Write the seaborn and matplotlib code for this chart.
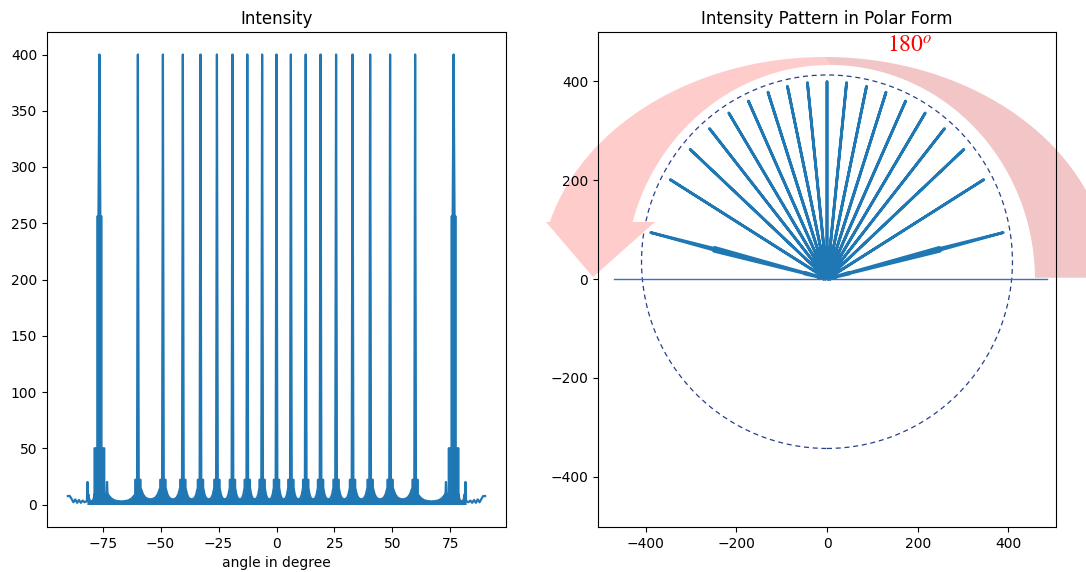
import numpy as np
import pandas as pd
import matplotlib
matplotlib.use("Agg")
import matplotlib.pyplot as plt
import matplotlib.transforms as mtransforms
from matplotlib.patches import Ellipse, Polygon
import seaborn as sns

# ---------------- data ----------------
peak_angles = [-76.4, -59.8, -49.0, -40.4, -32.8, -25.7, -19.0, -12.6, -6.2, 0.0,
               6.2, 12.6, 19.0, 25.7, 32.8, 40.4, 49.0, 59.8, 76.4]
peak_values = [400] * 19
shoulder_values = [50, 22, 22, 22, 22, 22, 22, 22, 22, 22,
                   22, 22, 22, 22, 22, 22, 22, 22, 50]
plateau_values = [256, 0, 0, 0, 0, 0, 0, 0, 0, 0,
                  0, 0, 0, 0, 0, 0, 0, 0, 256]
side_bump_angles = [-81.5, -73.1, 73.1, 81.5]
side_bump_values = [20, 20, 20, 20]
gap_profile = [15, 9, 6, 5, 4.5, 5, 6, 9, 15]          # sidelobe envelope across a gap
edge_left_angles = [-90.0, -89.2, -88.4, -87.6, -86.8, -86.0, -85.2, -84.4, -83.6, -82.8]
edge_left_values = [7.5, 7.6, 5.0, 2.0, 4.5, 1.5, 4.0, 1.5, 3.5, 2.0]
edge_right_angles = [82.8, 83.6, 84.4, 85.2, 86.0, 86.8, 87.6, 88.4, 89.2, 90.0]
edge_right_values = [2.0, 3.5, 1.5, 4.0, 1.5, 4.5, 2.0, 5.0, 7.6, 7.5]
axis_line_x = [-470, 485]
axis_line_y = [0, 0]

C0 = "#1f77b4"

# ---------------- build the intensity trace from the values ----------------
def peak_pts(a, top, sh, pl):
    if pl:
        return [(a - 2.1, 3), (a - 2.1, sh), (a - 0.9, sh), (a - 0.9, pl), (a - 0.4, pl),
                (a, top), (a + 0.4, pl), (a + 0.9, pl), (a + 0.9, sh), (a + 2.1, sh), (a + 2.1, 3)]
    return [(a - 1.15, sh), (a - 0.35, sh), (a, top), (a + 0.35, sh), (a + 1.15, sh)]

def bump_pts(a, v):
    return [(a - 0.3, 3), (a, v), (a + 0.3, 3)]

features = [(a, "p", i) for i, a in enumerate(peak_angles)] + \
           [(a, "b", i) for i, a in enumerate(side_bump_angles)]
features.sort()

interior = []
for k, (a, kind, i) in enumerate(features):
    if kind == "p":
        pts = peak_pts(a, peak_values[i], shoulder_values[i], plateau_values[i])
    else:
        pts = bump_pts(a, side_bump_values[i])
    if k > 0 and interior:
        x0 = interior[-1][0]
        x1 = pts[0][0]
        prev_kind = features[k - 1][1]
        fr = np.linspace(0, 1, len(gap_profile))
        scale = 1.0 if (prev_kind == "p" and kind == "p") else 0.6
        interior += [(x0 + f * (x1 - x0), scale * g) for f, g in zip(fr, gap_profile)]
    interior += pts

ix = np.array([p[0] for p in interior])
iy = np.array([p[1] for p in interior], dtype=float)
full_x = np.concatenate([edge_left_angles, ix, edge_right_angles])
full_y = np.concatenate([edge_left_values, iy, edge_right_values])
df = pd.DataFrame({"angle": full_x, "I": full_y})
df["px"] = df["I"] * np.sin(np.radians(df["angle"]))
df["py"] = df["I"] * np.cos(np.radians(df["angle"]))

# ---------------- figure ----------------
fig = plt.figure(figsize=(10.86, 5.72), dpi=100)
ax1 = fig.add_axes([47 / 1086, 45 / 572, 459 / 1086, 495 / 572])
ax2 = fig.add_axes([598 / 1086, 45 / 572, 458 / 1086, 495 / 572])

# left: intensity vs angle
ax1.fill_between(ix, 0, iy, color=C0, lw=0)
sns.lineplot(data=df, x="angle", y="I", sort=False, estimator=None, ax=ax1,
             color=C0, lw=1.6)
ax1.set_xlim(-99, 99)
ax1.set_ylim(-20, 420)
ax1.set_xticks([-75, -50, -25, 0, 25, 50, 75])
ax1.set_yticks([0, 50, 100, 150, 200, 250, 300, 350, 400])
ax1.set_title("Intensity", fontsize=12)
ax1.set_xlabel("angle in degree", fontsize=10)
ax1.set_ylabel("")

# right: polar form
ipx = iy * np.sin(np.radians(ix))
ipy = iy * np.cos(np.radians(ix))
ax2.fill(np.r_[0, ipx, 0], np.r_[0, ipy, 0], color=C0, lw=0, zorder=2)
sns.lineplot(data=df, x="px", y="py", sort=False, estimator=None, ax=ax2,
             color=C0, lw=2.0)
sns.lineplot(x=axis_line_x, y=axis_line_y, ax=ax2, color="#3a6fc4", lw=1.0)
ax2.add_patch(Ellipse((0, 35), 818, 756, fill=False, ec="#27408b", lw=0.9,
                      ls=(0, (4, 3))))
ax2.set_xlim(-505, 505)
ax2.set_ylim(-502, 500)
ax2.set_xticks([-400, -200, 0, 200, 400])
ax2.set_yticks([-400, -200, 0, 200, 400])
ax2.set_xlabel("")
ax2.set_ylabel("")
ax2.set_title("Intensity Pattern in Polar Form", fontsize=12)

# red curved arrow (annotation drawn in figure pixel coordinates, y downward)
pix = mtransforms.Affine2D().scale(1, -1).translate(0, 572).scale(1 / 1086, 1 / 572) + fig.transFigure

def band(t0, t1, n=80):
    t = np.radians(np.linspace(t0, t1, n))
    ox, oy, oa, ob = 825, 280, 285, 223
    ix_, iy_, ia, ib = 830, 280, 205, 215
    outer = np.c_[ox + oa * np.cos(t), oy - ob * np.sin(t)]
    inner = np.c_[ix_ + ia * np.cos(t[::-1]), iy_ - ib * np.sin(t[::-1])]
    return np.vstack([outer, inner])

# right half (darker), left half (lighter) ending where the head starts
ax2.add_patch(Polygon(band(0.6, 90), closed=True, transform=pix, fc="#f2c6c6",
                      ec="none", clip_on=False, zorder=1))
ax2.add_patch(Polygon(band(90, 165), closed=True, transform=pix, fc="#ffcccc",
                      ec="none", clip_on=False, zorder=1))
ax2.add_patch(Polygon([(546, 222), (655, 222), (593, 277)], closed=True, transform=pix,
                      fc="#ffcccc", ec="none", clip_on=False, zorder=1))
ax2.text(182, 472, "$180^o$", color="red", fontsize=17, ha="center", va="center",
         math_fontfamily="stix")

fig.savefig("out.png", dpi=100)
